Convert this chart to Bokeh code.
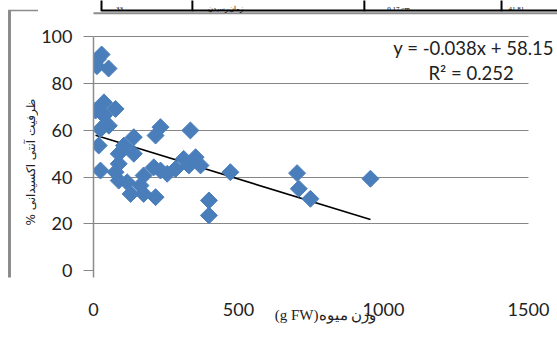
import math
from bokeh.plotting import figure
from bokeh.layouts import row
from bokeh.models import Range1d, FixedTicker, Label, BoxAnnotation
from bokeh.embed import file_html
from bokeh.resources import INLINE

# fruit weight (g FW)
weight = [12, 15, 28, 52, 7, 36, 36, 76, 53, 24, 18, 24, 76, 87, 105, 87, 87, 116,
          139, 139, 128, 173, 162, 173, 214, 214, 231, 208, 231, 254, 283, 311, 334,
          329, 352, 369, 398, 398, 472, 702, 708, 748, 955]
# antioxidant capacity (%)
capacity = [87.5, 90.5, 92.5, 86.5, 68.5, 72, 66.4, 69.2, 62, 60.5, 53.5, 42.8, 42.1,
            50, 53.5, 45.7, 38.5, 37.8, 57.1, 50, 32.8, 40.7, 36.4, 32.8, 31.4, 57.8,
            61.4, 44.2, 42.8, 41.4, 43.5, 47.8, 60, 45, 48.5, 45, 30, 23.6, 42.1,
            41.7, 35, 30.7, 39.3]
slope = -0.038
intercept = 58.15
r2 = 0.252
x_ticks = [0, 500, 1000, 1500]
y_ticks = [0, 20, 40, 60, 80, 100]
x_title = "(g FW)وزن میوه"
y_title = "% ظرفیت آنتی اکسیدانی"
table_cells = ["33", "زمان رسیدن", "0.17 cm", "41.81"]

Y_TOP = 115.63
Y_BOT = -3.0
PX_PER_Y = 2.335

# ---------------- left strip (chart-area border + y title) ----------------
pl = figure(width=38, height=351, output_backend="svg", toolbar_location=None,
            x_range=Range1d(0, 38), y_range=Range1d(Y_TOP - 351 / PX_PER_Y, Y_TOP),
            x_axis_type=None, y_axis_type=None)
pl.min_border = 0
pl.min_border_left = pl.min_border_right = pl.min_border_top = pl.min_border_bottom = 0
pl.outline_line_color = None
pl.title.visible = False
pl.add_layout(BoxAnnotation(left=7.5, right=10.5, top=110.3, bottom=-60,
                            fill_color="#8c8c8c", fill_alpha=1, line_color=None))
pl.add_layout(BoxAnnotation(left=7.5, right=60, top=110.62, bottom=109.76,
                            fill_color="#8c8c8c", fill_alpha=1, line_color=None))
pl.add_layout(Label(x=30, y=-6.5, text=y_title, angle=math.pi / 2,
                    text_font="DejaVu Sans", text_font_size="12px",
                    text_align="left", text_baseline="middle", text_color="#222222"))

# ---------------- main chart ----------------
p = figure(width=519, height=351, output_backend="svg", toolbar_location=None,
           x_range=Range1d(0, 1600), y_range=Range1d(Y_BOT, Y_TOP))
p.min_border_left = 55
p.min_border_right = 0
p.min_border_top = 0
p.min_border_bottom = 74
p.outline_line_color = None
p.title.visible = False

p.xgrid.visible = False
p.ygrid.ticker = FixedTicker(ticks=[t for t in y_ticks if t > 0])
p.ygrid.grid_line_color = "#868686"
p.ygrid.grid_line_width = 1
try:
    p.ygrid.cross_bounds = (x_ticks[0], x_ticks[-1])
except Exception:
    p.ygrid.visible = False
    gy = [t for t in y_ticks if t > 0]
    p.segment(x0=[x_ticks[0]] * len(gy), x1=[x_ticks[-1]] * len(gy), y0=gy, y1=gy,
              line_color="#868686", line_width=1)

p.xaxis.ticker = FixedTicker(ticks=x_ticks)
p.xaxis.axis_line_color = None
p.xaxis.major_tick_line_color = None
p.xaxis.minor_tick_line_color = None
p.xaxis.major_tick_out = 0
p.xaxis.major_tick_in = 0
p.xaxis.major_label_standoff = 25
p.xaxis.major_label_text_font = "Lato"
p.xaxis.major_label_text_font_size = "18px"
p.xaxis.major_label_text_color = "#222222"
p.xaxis.axis_label = x_title
p.xaxis.axis_label_standoff = -12
p.xaxis.axis_label_text_font = "Liberation Serif"
p.xaxis.axis_label_text_font_style = "normal"
p.xaxis.axis_label_text_font_size = "15px"
p.xaxis.axis_label_text_color = "#222222"

p.yaxis.ticker = FixedTicker(ticks=y_ticks)
p.yaxis.bounds = (Y_BOT, y_ticks[-1])
p.yaxis.axis_line_color = "#8c8c8c"
p.yaxis.axis_line_width = 1.5
p.yaxis.major_tick_line_color = "#868686"
p.yaxis.major_tick_out = 10
p.yaxis.major_tick_in = 0
p.yaxis.minor_tick_line_color = None
p.yaxis.major_label_standoff = 11
p.yaxis.major_label_text_font = "Lato"
p.yaxis.major_label_text_font_size = "18px"
p.yaxis.major_label_text_color = "#222222"

# trendline
x0, x1 = min(weight), max(weight)
p.line([x0, x1], [slope * x0 + intercept, slope * x1 + intercept],
       line_color="black", line_width=1.6)

p.scatter(weight, capacity, marker="square", angle=math.pi / 4, size=12,
          fill_color="#4a7ebb", line_color="#4a7ebb", line_width=1)

p.add_layout(Label(x=1034, y=95.5, text=f"y = {slope}x + {intercept}", text_font="Lato",
                   text_font_size="18.5px", text_baseline="middle", text_color="#222222"))
p.add_layout(Label(x=1155, y=84.4, text=f"R² = {r2}", text_font="Lato",
                   text_font_size="18.5px", text_baseline="middle", text_color="#222222"))

# chart-area top border
p.add_layout(BoxAnnotation(left=-400, right=3000, top=110.62, bottom=109.76,
                           fill_color="#8c8c8c", fill_alpha=1, line_color=None))
# table rule of the document above the chart
p.add_layout(BoxAnnotation(left=27.6, right=3000, top=111.78, bottom=110.92,
                           fill_color="black", fill_alpha=1, line_color=None))
for xv in [27.6, 341, 934, 1407]:
    p.add_layout(BoxAnnotation(left=xv - 3.4, right=xv + 3.4, top=130, bottom=111,
                               fill_color="black", fill_alpha=1, line_color=None))
for xv, txt in zip([90, 455, 1052, 1431], table_cells):
    p.add_layout(Label(x=xv, y=112.0, text=txt, text_font="Liberation Serif",
                       text_font_size="7px", text_align="left" if xv > 1400 else "center",
                       text_baseline="alphabetic", text_color="black"))

layout = row(pl, p)
open("out.html", "w").write(file_html(layout, INLINE))
